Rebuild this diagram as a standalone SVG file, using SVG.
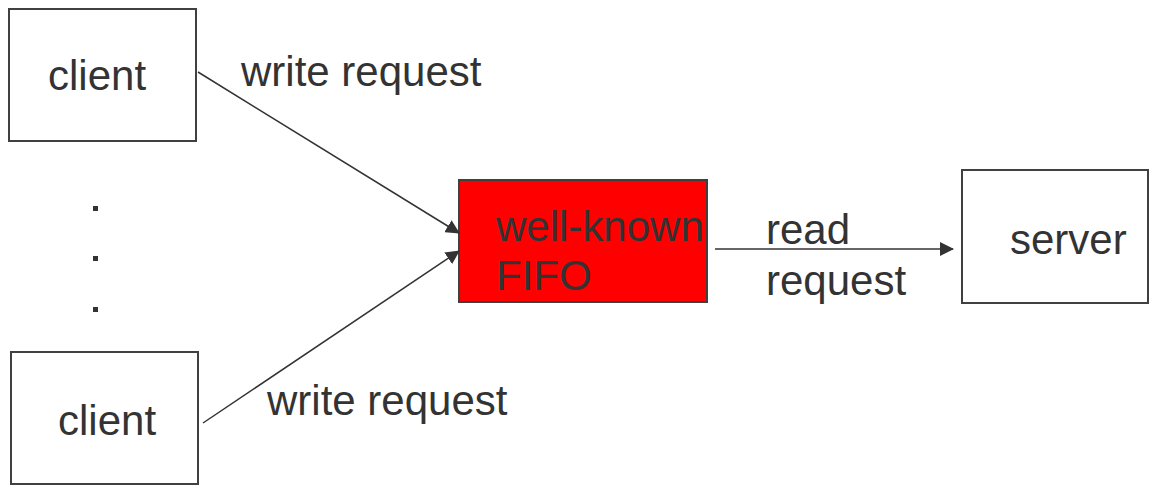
<svg xmlns="http://www.w3.org/2000/svg" width="1156" height="486" viewBox="0 0 1156 486">
<defs>
<style>
.box{fill:#fff;stroke:#404040;stroke-width:2}
.fifo{fill:#ff0000;stroke:#404040;stroke-width:2}
.t{font-family:"Liberation Sans",Arial,sans-serif;font-size:42px;fill:#333}
.c{stroke:#333;stroke-width:1.5;fill:none}
</style>
<marker id="ah" markerWidth="14" markerHeight="14" refX="13" refY="7" orient="auto" markerUnits="userSpaceOnUse" viewBox="0 0 14 14">
<path d="M0,0 L14,7 L0,14 z" fill="#333"/>
</marker>
</defs>
<rect width="1156" height="486" fill="#fff"/>
<g id="client1">
<rect class="box" x="9" y="9" width="187" height="132"/>
<text class="t" x="48" y="90">client</text>
</g>
<g id="client2">
<rect class="box" x="11" y="352" width="187" height="132"/>
<text class="t" x="58" y="435">client</text>
</g>
<g id="dots" fill="#333">
<rect x="93" y="206" width="5" height="5"/>
<rect x="93" y="256" width="5" height="5"/>
<rect x="93" y="307" width="5" height="5"/>
</g>
<g id="fifo">
<rect class="fifo" x="459" y="180" width="248" height="122"/>
<text class="t" x="496" y="241">well-known</text>
<text class="t" x="496" y="290">FIFO</text>
</g>
<g id="server">
<rect class="box" x="962" y="170" width="186" height="133"/>
<text class="t" x="1010" y="254">server</text>
</g>
<g id="connectors">
<line class="c" x1="198" y1="72" x2="459" y2="233" marker-end="url(#ah)"/>
<line class="c" x1="203" y1="423" x2="459" y2="251" marker-end="url(#ah)"/>
<line class="c" x1="715" y1="249" x2="953" y2="249" marker-end="url(#ah)"/>
<text class="t" x="241" y="86">write request</text>
<text class="t" x="267" y="415">write request</text>
<text class="t" x="766" y="244">read</text>
<text class="t" x="766" y="295">request</text>
</g>
</svg>
